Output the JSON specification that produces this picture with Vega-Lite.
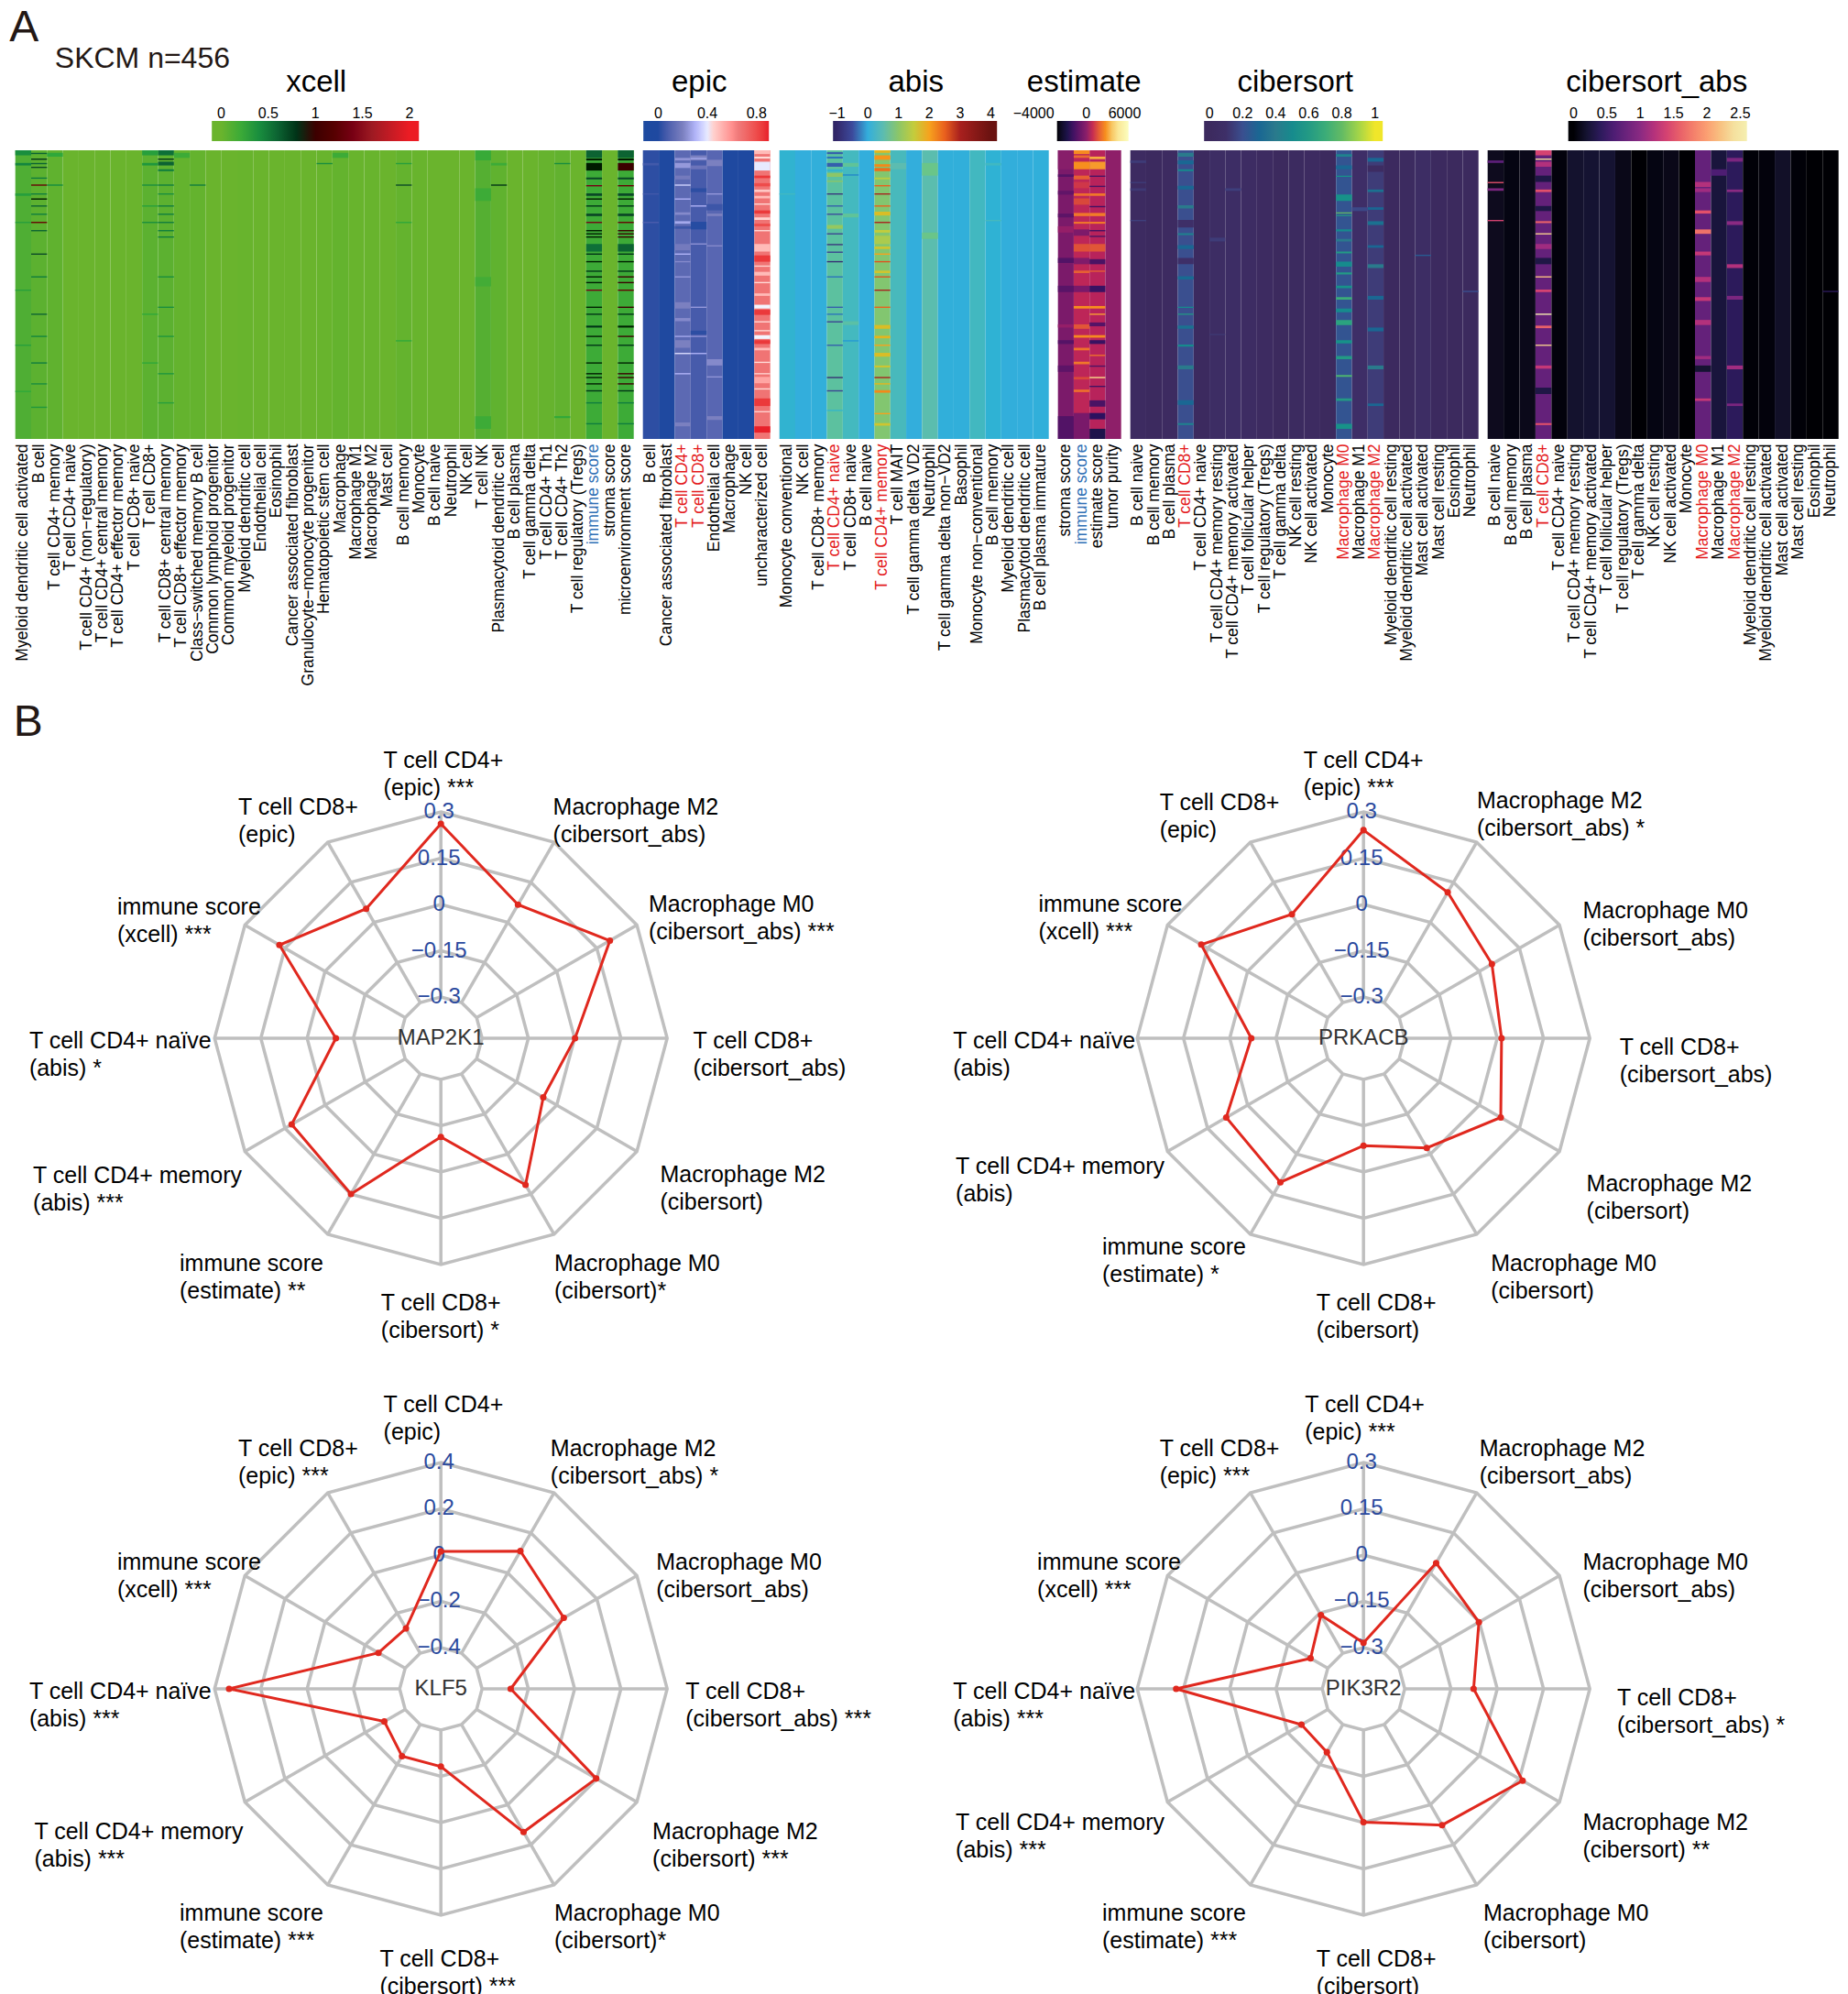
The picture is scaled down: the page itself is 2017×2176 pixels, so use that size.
{"$schema":"https://vega.github.io/schema/vega-lite/v6.json","padding":{"left":9.7,"top":7,"right":0,"bottom":0},"background":"white",
"title":{"text":"A","anchor":"start","fontSize":48,"fontWeight":"normal","font":"Liberation Sans","color":"#231815","offset":-7,"dx":-4.5},
"config":{"view":{"stroke":null},"text":{"font":"Liberation Sans"},"title":{"font":"Liberation Sans","fontWeight":"normal"},
"axis":{"labelFont":"Liberation Sans","labelFontSize":17.5,"domain":false,"ticks":false,"title":null,"labelAngle":-90,"labelPadding":5,"labelOverlap":false,"labelLimit":400,"labelBound":false,"labelFlush":false},
"legend":{"labelFont":"Liberation Sans","labelFontSize":16,"labelColor":"black","titleFont":"Liberation Sans","titleFontSize":16,"titleFontWeight":"normal","titleColor":"black"}},
"datasets":{
"xcell_cols":[{"k":0,"c":"Myeloid dendritic cell activated"},{"k":1,"c":"B cell"},{"k":2,"c":"T cell CD4+ memory"},{"k":3,"c":"T cell CD4+ naive"},{"k":4,"c":"T cell CD4+ (non−regulatory)"},{"k":5,"c":"T cell CD4+ central memory"},{"k":6,"c":"T cell CD4+ effector memory"},{"k":7,"c":"T cell CD8+ naive"},{"k":8,"c":"T cell CD8+"},{"k":9,"c":"T cell CD8+ central memory"},{"k":10,"c":"T cell CD8+ effector memory"},{"k":11,"c":"Class−switched memory B cell"},{"k":12,"c":"Common lymphoid progenitor"},{"k":13,"c":"Common myeloid progenitor"},{"k":14,"c":"Myeloid dendritic cell"},{"k":15,"c":"Endothelial cell"},{"k":16,"c":"Eosinophil"},{"k":17,"c":"Cancer associated fibroblast"},{"k":18,"c":"Granulocyte−monocyte progenitor"},{"k":19,"c":"Hematopoietic stem cell"},{"k":20,"c":"Macrophage"},{"k":21,"c":"Macrophage M1"},{"k":22,"c":"Macrophage M2"},{"k":23,"c":"Mast cell"},{"k":24,"c":"B cell memory"},{"k":25,"c":"Monocyte"},{"k":26,"c":"B cell naive"},{"k":27,"c":"Neutrophil"},{"k":28,"c":"NK cell"},{"k":29,"c":"T cell NK"},{"k":30,"c":"Plasmacytoid dendritic cell"},{"k":31,"c":"B cell plasma"},{"k":32,"c":"T cell gamma delta"},{"k":33,"c":"T cell CD4+ Th1"},{"k":34,"c":"T cell CD4+ Th2"},{"k":35,"c":"T cell regulatory (Tregs)"},{"k":36,"c":"immune score"},{"k":37,"c":"stroma score"},{"k":38,"c":"microenvironment score"}],
"xcell":[{"k":0,"v":0.13,"r":0,"e":456},{"k":1,"v":0.07,"r":0,"e":456},{"k":2,"v":0.05,"r":0,"e":456},{"k":3,"v":0,"r":0,"e":456},{"k":4,"v":0,"r":0,"e":456},{"k":5,"v":0,"r":0,"e":456},{"k":6,"v":0,"r":0,"e":456},{"k":7,"v":0,"r":0,"e":456},{"k":8,"v":0.07,"r":0,"e":456},{"k":9,"v":0.07,"r":0,"e":456},{"k":10,"v":0.03,"r":0,"e":456},{"k":11,"v":0.03,"r":0,"e":456},{"k":12,"v":0,"r":0,"e":456},{"k":13,"v":0,"r":0,"e":456},{"k":14,"v":0.01,"r":0,"e":456},{"k":15,"v":0,"r":0,"e":456},{"k":16,"v":0,"r":0,"e":456},{"k":17,"v":0,"r":0,"e":456},{"k":18,"v":0,"r":0,"e":456},{"k":19,"v":0.01,"r":0,"e":456},{"k":20,"v":0.03,"r":0,"e":456},{"k":21,"v":0.01,"r":0,"e":456},{"k":22,"v":0.01,"r":0,"e":456},{"k":23,"v":0,"r":0,"e":456},{"k":24,"v":0.03,"r":0,"e":456},{"k":25,"v":0.01,"r":0,"e":456},{"k":26,"v":0,"r":0,"e":456},{"k":27,"v":0,"r":0,"e":456},{"k":28,"v":0,"r":0,"e":456},{"k":29,"v":0.1,"r":0,"e":456},{"k":30,"v":0.05,"r":0,"e":456},{"k":31,"v":0,"r":0,"e":456},{"k":32,"v":0,"r":0,"e":456},{"k":33,"v":0.02,"r":0,"e":456},{"k":34,"v":0.04,"r":0,"e":456},{"k":35,"v":0,"r":0,"e":456},{"k":36,"v":0.2,"r":0,"e":456},{"k":37,"v":0,"r":0,"e":456},{"k":38,"v":0.2,"r":0,"e":456},
{"k":36,"v":0.6,"r":0,"e":12},{"k":36,"v":0.9,"r":13,"e":16},{"k":36,"v":0.95,"r":20,"e":32},{"k":36,"v":0.7,"r":43,"e":46},{"k":36,"v":1.4,"r":55,"e":57},{"k":36,"v":0.7,"r":68,"e":72},{"k":36,"v":0.95,"r":76,"e":78},{"k":36,"v":0.8,"r":87,"e":89},{"k":36,"v":0.7,"r":100,"e":104},{"k":36,"v":1.4,"r":113,"e":115},{"k":36,"v":0.95,"r":126,"e":128},{"k":36,"v":0.95,"r":131,"e":133},{"k":36,"v":0.95,"r":136,"e":138},{"k":36,"v":0.55,"r":148,"e":160},{"k":36,"v":0.8,"r":163,"e":165},{"k":36,"v":0.9,"r":175,"e":177},{"k":36,"v":0.8,"r":190,"e":192},{"k":36,"v":0.95,"r":199,"e":201},{"k":36,"v":0.95,"r":208,"e":210},{"k":36,"v":1.4,"r":220,"e":222},{"k":36,"v":0.9,"r":247,"e":249},{"k":36,"v":0.8,"r":258,"e":260},{"k":36,"v":0.8,"r":277,"e":280},{"k":36,"v":0.95,"r":293,"e":295},{"k":36,"v":0.8,"r":307,"e":309},{"k":36,"v":0.9,"r":335,"e":337},{"k":36,"v":0.95,"r":352,"e":354},{"k":36,"v":0.95,"r":358,"e":360},{"k":36,"v":0.95,"r":368,"e":370},{"k":36,"v":0.8,"r":379,"e":381},{"k":36,"v":0.5,"r":398,"e":400},{"k":36,"v":0.5,"r":431,"e":433},
{"k":38,"v":0.6,"r":0,"e":12},{"k":38,"v":0.95,"r":13,"e":16},{"k":38,"v":1,"r":20,"e":32},{"k":38,"v":0.7,"r":43,"e":46},{"k":38,"v":1.3,"r":55,"e":57},{"k":38,"v":0.7,"r":68,"e":72},{"k":38,"v":0.95,"r":76,"e":78},{"k":38,"v":0.8,"r":87,"e":89},{"k":38,"v":0.7,"r":100,"e":104},{"k":38,"v":1.3,"r":113,"e":115},{"k":38,"v":1,"r":126,"e":128},{"k":38,"v":1,"r":131,"e":133},{"k":38,"v":1,"r":136,"e":138},{"k":38,"v":0.6,"r":148,"e":160},{"k":38,"v":0.8,"r":163,"e":165},{"k":38,"v":0.9,"r":175,"e":177},{"k":38,"v":0.8,"r":190,"e":192},{"k":38,"v":1,"r":199,"e":201},{"k":38,"v":1,"r":208,"e":210},{"k":38,"v":1.3,"r":220,"e":222},{"k":38,"v":1,"r":247,"e":249},{"k":38,"v":0.8,"r":258,"e":260},{"k":38,"v":0.9,"r":277,"e":280},{"k":38,"v":1,"r":293,"e":295},{"k":38,"v":0.8,"r":307,"e":309},{"k":38,"v":0.9,"r":335,"e":337},{"k":38,"v":1,"r":352,"e":354},{"k":38,"v":1,"r":358,"e":360},{"k":38,"v":1,"r":368,"e":370},{"k":38,"v":0.8,"r":379,"e":381},{"k":38,"v":0.5,"r":398,"e":400},{"k":38,"v":0.5,"r":431,"e":433},
{"k":1,"v":0.6,"r":4,"e":6},{"k":1,"v":0.8,"r":13,"e":15},{"k":1,"v":0.6,"r":20,"e":22},{"k":1,"v":0.7,"r":26,"e":28},{"k":1,"v":0.5,"r":43,"e":45},{"k":1,"v":1.3,"r":54,"e":56},{"k":1,"v":0.5,"r":68,"e":70},{"k":1,"v":0.95,"r":76,"e":78},{"k":1,"v":0.6,"r":87,"e":89},{"k":1,"v":0.5,"r":100,"e":102},{"k":1,"v":1.3,"r":113,"e":115},{"k":1,"v":0.6,"r":126,"e":128},{"k":1,"v":0.7,"r":163,"e":165},{"k":1,"v":0.5,"r":199,"e":201},{"k":1,"v":0.6,"r":258,"e":260},{"k":1,"v":0.45,"r":293,"e":295},{"k":1,"v":0.5,"r":335,"e":337},{"k":1,"v":0.4,"r":368,"e":370},{"k":1,"v":0.35,"r":405,"e":407},
{"k":9,"v":0.55,"r":0,"e":8},{"k":9,"v":0.8,"r":13,"e":15},{"k":9,"v":0.6,"r":18,"e":24},{"k":9,"v":0.5,"r":30,"e":33},{"k":9,"v":0.5,"r":54,"e":56},{"k":9,"v":0.4,"r":68,"e":70},{"k":9,"v":0.5,"r":87,"e":89},{"k":9,"v":0.5,"r":100,"e":102},{"k":9,"v":0.5,"r":113,"e":115},{"k":9,"v":0.5,"r":126,"e":128},{"k":9,"v":0.5,"r":136,"e":138},{"k":9,"v":0.4,"r":199,"e":201},{"k":9,"v":0.4,"r":247,"e":249},{"k":9,"v":0.35,"r":293,"e":295},{"k":9,"v":0.35,"r":352,"e":354},{"k":9,"v":0.3,"r":398,"e":400},
{"k":8,"v":0.3,"r":0,"e":8},{"k":8,"v":0.35,"r":20,"e":24},{"k":8,"v":0.4,"r":54,"e":56},{"k":8,"v":0.3,"r":87,"e":89},{"k":8,"v":0.4,"r":113,"e":115},{"k":8,"v":0.25,"r":258,"e":260},{"k":8,"v":0.25,"r":335,"e":337},{"k":0,"v":0.4,"r":0,"e":8},{"k":0,"v":0.45,"r":20,"e":24},{"k":0,"v":0.3,"r":68,"e":72},{"k":0,"v":0.3,"r":113,"e":115},{"k":0,"v":0.3,"r":220,"e":222},{"k":0,"v":0.3,"r":307,"e":309},{"k":0,"v":0.25,"r":380,"e":382},
{"k":24,"v":0.3,"r":20,"e":22},{"k":24,"v":0.7,"r":54,"e":56},{"k":24,"v":0.25,"r":113,"e":115},{"k":24,"v":0.25,"r":300,"e":302},{"k":30,"v":0.8,"r":54,"e":56},{"k":30,"v":0.2,"r":20,"e":24},{"k":29,"v":0.22,"r":0,"e":16},{"k":29,"v":0.2,"r":60,"e":80},{"k":29,"v":0.18,"r":200,"e":215},{"k":29,"v":0.2,"r":420,"e":440},{"k":34,"v":0.4,"r":20,"e":22},{"k":34,"v":0.25,"r":420,"e":423},{"k":19,"v":0.4,"r":20,"e":22},{"k":20,"v":0.2,"r":4,"e":12},{"k":11,"v":0.5,"r":54,"e":56},{"k":10,"v":0.2,"r":4,"e":12},{"k":2,"v":0.4,"r":54,"e":56},{"k":2,"v":0.25,"r":4,"e":10}],
"epic_cols":[{"k":0,"c":"B cell"},{"k":1,"c":"Cancer associated fibroblast"},{"k":2,"c":"T cell CD4+"},{"k":3,"c":"T cell CD8+"},{"k":4,"c":"Endothelial cell"},{"k":5,"c":"Macrophage"},{"k":6,"c":"NK cell"},{"k":7,"c":"uncharacterized cell"}],
"epic":[{"k":0,"v":0.02,"r":0,"e":456},{"k":1,"v":0,"r":0,"e":456},{"k":2,"v":0.12,"r":0,"e":456},{"k":3,"v":0.07,"r":0,"e":456},{"k":4,"v":0.11,"r":0,"e":456},{"k":5,"v":0,"r":0,"e":456},{"k":6,"v":0,"r":0,"e":456},{"k":7,"v":0.67,"r":0,"e":456},
{"k":2,"v":0.24,"r":12,"e":16},{"k":2,"v":0.25,"r":20,"e":28},{"k":2,"v":0.18,"r":40,"e":46},{"k":2,"v":0.36,"r":54,"e":56},{"k":2,"v":0.3,"r":76,"e":78},{"k":2,"v":0.22,"r":98,"e":102},{"k":2,"v":0.28,"r":112,"e":116},{"k":2,"v":0.18,"r":148,"e":158},{"k":2,"v":0.3,"r":163,"e":165},{"k":2,"v":0.22,"r":175,"e":177},{"k":2,"v":0.25,"r":199,"e":201},{"k":2,"v":0.2,"r":240,"e":250},{"k":2,"v":0.22,"r":265,"e":270},{"k":2,"v":0.28,"r":293,"e":295},{"k":2,"v":0.38,"r":320,"e":322},{"k":2,"v":0.3,"r":352,"e":354},{"k":2,"v":0.2,"r":300,"e":312},{"k":2,"v":0.2,"r":430,"e":436},{"k":2,"v":0.05,"r":120,"e":124},
{"k":3,"v":0.2,"r":8,"e":16},{"k":3,"v":0.28,"r":12,"e":14},{"k":3,"v":0.16,"r":24,"e":30},{"k":3,"v":0.3,"r":87,"e":89},{"k":3,"v":0.24,"r":147,"e":149},{"k":3,"v":0.25,"r":247,"e":249},{"k":3,"v":0.24,"r":293,"e":295},{"k":3,"v":0.3,"r":320,"e":322},{"k":3,"v":0.02,"r":60,"e":66},{"k":3,"v":0.01,"r":113,"e":125},{"k":3,"v":0.02,"r":285,"e":291},
{"k":4,"v":0.2,"r":15,"e":25},{"k":4,"v":0.25,"r":68,"e":70},{"k":4,"v":0.2,"r":100,"e":104},{"k":4,"v":0.22,"r":150,"e":152},{"k":4,"v":0.22,"r":330,"e":340},{"k":4,"v":0.24,"r":357,"e":359},{"k":4,"v":0.2,"r":420,"e":426},{"k":4,"v":0.05,"r":85,"e":95},
{"k":0,"v":0.06,"r":68,"e":70},{"k":0,"v":0.08,"r":113,"e":115},{"k":0,"v":0.06,"r":20,"e":24},
{"k":7,"v":0.5,"r":0,"e":6},{"k":7,"v":0.43,"r":10,"e":13},{"k":7,"v":0.4,"r":18,"e":32},{"k":7,"v":0.85,"r":40,"e":44},{"k":7,"v":0.8,"r":52,"e":57},{"k":7,"v":0.47,"r":62,"e":66},{"k":7,"v":0.5,"r":72,"e":76},{"k":7,"v":0.43,"r":84,"e":86},{"k":7,"v":0.85,"r":95,"e":100},{"k":7,"v":0.45,"r":106,"e":110},{"k":7,"v":0.8,"r":116,"e":120},{"k":7,"v":0.43,"r":126,"e":128},{"k":7,"v":0.5,"r":148,"e":160},{"k":7,"v":0.85,"r":166,"e":176},{"k":7,"v":0.45,"r":182,"e":184},{"k":7,"v":0.5,"r":192,"e":198},{"k":7,"v":0.43,"r":208,"e":210},{"k":7,"v":0.5,"r":226,"e":230},{"k":7,"v":0.42,"r":244,"e":250},{"k":7,"v":0.85,"r":252,"e":260},{"k":7,"v":0.43,"r":270,"e":272},{"k":7,"v":0.43,"r":284,"e":286},{"k":7,"v":0.42,"r":292,"e":298},{"k":7,"v":0.85,"r":300,"e":306},{"k":7,"v":0.5,"r":312,"e":316},{"k":7,"v":0.43,"r":334,"e":336},{"k":7,"v":0.45,"r":352,"e":354},{"k":7,"v":0.55,"r":358,"e":368},{"k":7,"v":0.43,"r":376,"e":378},{"k":7,"v":0.85,"r":392,"e":404},{"k":7,"v":0.45,"r":412,"e":414},{"k":7,"v":0.9,"r":436,"e":446}],
"abis_cols":[{"k":0,"c":"Monocyte conventional"},{"k":1,"c":"NK cell"},{"k":2,"c":"T cell CD8+ memory"},{"k":3,"c":"T cell CD4+ naive"},{"k":4,"c":"T cell CD8+ naive"},{"k":5,"c":"B cell naive"},{"k":6,"c":"T cell CD4+ memory"},{"k":7,"c":"T cell MAIT"},{"k":8,"c":"T cell gamma delta VD2"},{"k":9,"c":"Neutrophil"},{"k":10,"c":"T cell gamma delta non−VD2"},{"k":11,"c":"Basophil"},{"k":12,"c":"Monocyte non−conventional"},{"k":13,"c":"B cell memory"},{"k":14,"c":"Myeloid dendritic cell"},{"k":15,"c":"Plasmacytoid dendritic cell"},{"k":16,"c":"B cell plasma immature"}],
"abis":[{"k":0,"v":0.14,"r":0,"e":456},{"k":1,"v":0,"r":0,"e":456},{"k":2,"v":0.02,"r":0,"e":456},{"k":3,"v":0.65,"r":0,"e":456},{"k":4,"v":0.33,"r":0,"e":456},{"k":5,"v":0,"r":0,"e":456},{"k":6,"v":0.95,"r":0,"e":456},{"k":7,"v":0.36,"r":0,"e":456},{"k":8,"v":0,"r":0,"e":456},{"k":9,"v":0.52,"r":0,"e":456},{"k":10,"v":0.03,"r":0,"e":456},{"k":11,"v":0.03,"r":0,"e":456},{"k":12,"v":0.32,"r":0,"e":456},{"k":13,"v":0.1,"r":0,"e":456},{"k":14,"v":0.01,"r":0,"e":456},{"k":15,"v":0,"r":0,"e":456},{"k":16,"v":0.03,"r":0,"e":456},
{"k":3,"v":-0.4,"r":3,"e":6},{"k":3,"v":-0.3,"r":10,"e":13},{"k":3,"v":-0.4,"r":20,"e":26},{"k":3,"v":0.2,"r":30,"e":34},{"k":3,"v":1,"r":36,"e":42},{"k":3,"v":1,"r":48,"e":50},{"k":3,"v":-0.8,"r":68,"e":70},{"k":3,"v":-0.4,"r":87,"e":89},{"k":3,"v":-0.5,"r":100,"e":102},{"k":3,"v":1.1,"r":118,"e":124},{"k":3,"v":-0.6,"r":131,"e":133},{"k":3,"v":-0.8,"r":148,"e":150},{"k":3,"v":-0.6,"r":160,"e":162},{"k":3,"v":-0.9,"r":175,"e":177},{"k":3,"v":-0.3,"r":199,"e":201},{"k":3,"v":-0.4,"r":247,"e":249},{"k":3,"v":-0.3,"r":258,"e":260},{"k":3,"v":-0.6,"r":270,"e":272},{"k":3,"v":-0.4,"r":307,"e":309},{"k":3,"v":-0.9,"r":358,"e":360},{"k":3,"v":-0.6,"r":379,"e":381},{"k":3,"v":0.2,"r":410,"e":412},
{"k":6,"v":1.8,"r":0,"e":4},{"k":6,"v":2.1,"r":8,"e":15},{"k":6,"v":2.2,"r":22,"e":26},{"k":6,"v":2.4,"r":28,"e":33},{"k":6,"v":1.4,"r":43,"e":46},{"k":6,"v":2.5,"r":55,"e":57},{"k":6,"v":3,"r":68,"e":70},{"k":6,"v":2.5,"r":87,"e":89},{"k":6,"v":1.7,"r":97,"e":103},{"k":6,"v":3,"r":113,"e":115},{"k":6,"v":1.5,"r":126,"e":130},{"k":6,"v":1.3,"r":135,"e":148},{"k":6,"v":1.6,"r":152,"e":156},{"k":6,"v":2,"r":163,"e":165},{"k":6,"v":2.6,"r":175,"e":177},{"k":6,"v":1.6,"r":190,"e":194},{"k":6,"v":2.6,"r":199,"e":201},{"k":6,"v":3,"r":220,"e":222},{"k":6,"v":2.5,"r":247,"e":249},{"k":6,"v":1.7,"r":276,"e":282},{"k":6,"v":1.8,"r":293,"e":297},{"k":6,"v":2,"r":307,"e":309},{"k":6,"v":1.7,"r":320,"e":326},{"k":6,"v":1.6,"r":340,"e":343},{"k":6,"v":3,"r":358,"e":360},{"k":6,"v":1.8,"r":368,"e":370},{"k":6,"v":2.2,"r":379,"e":383},{"k":6,"v":1.6,"r":431,"e":435},{"k":6,"v":2,"r":415,"e":417},
{"k":4,"v":-0.2,"r":38,"e":40},{"k":4,"v":0.7,"r":20,"e":26},{"k":4,"v":0.7,"r":100,"e":106},{"k":4,"v":-0.1,"r":300,"e":302},{"k":4,"v":0.6,"r":270,"e":276},{"k":9,"v":0.8,"r":20,"e":40},{"k":9,"v":0.8,"r":130,"e":140},{"k":7,"v":0.5,"r":20,"e":30},{"k":0,"v":0.3,"r":68,"e":70},{"k":13,"v":0.3,"r":20,"e":24},{"k":13,"v":0.35,"r":110,"e":112}],
"estimate_cols":[{"k":0,"c":"stroma score"},{"k":1,"c":"immune score"},{"k":2,"c":"estimate score"},{"k":3,"c":"tumor purity"}],
"estimate":[{"k":0,"v":-450,"r":0,"e":456},{"k":1,"v":800,"r":0,"e":456},{"k":2,"v":700,"r":0,"e":456},{"k":3,"v":50,"r":0,"e":456},
{"k":0,"v":-100,"r":0,"e":30},{"k":0,"v":-1500,"r":38,"e":42},{"k":0,"v":-1200,"r":64,"e":70},{"k":0,"v":-1300,"r":100,"e":106},{"k":0,"v":-1600,"r":170,"e":178},{"k":0,"v":-1400,"r":214,"e":224},{"k":0,"v":-1500,"r":300,"e":306},{"k":0,"v":-1300,"r":340,"e":350},{"k":0,"v":-1600,"r":420,"e":456},{"k":0,"v":150,"r":120,"e":130},{"k":0,"v":150,"r":275,"e":280},
{"k":1,"v":2900,"r":0,"e":6},{"k":1,"v":2200,"r":8,"e":12},{"k":1,"v":3000,"r":18,"e":30},{"k":1,"v":2000,"r":40,"e":46},{"k":1,"v":1200,"r":50,"e":60},{"k":1,"v":2300,"r":68,"e":72},{"k":1,"v":1500,"r":76,"e":86},{"k":1,"v":2500,"r":99,"e":104},{"k":1,"v":2500,"r":113,"e":116},{"k":1,"v":-400,"r":125,"e":135},{"k":1,"v":1700,"r":148,"e":160},{"k":1,"v":-300,"r":170,"e":180},{"k":1,"v":2000,"r":190,"e":194},{"k":1,"v":-500,"r":214,"e":224},{"k":1,"v":3000,"r":246,"e":250},{"k":1,"v":1800,"r":275,"e":282},{"k":1,"v":2900,"r":292,"e":296},{"k":1,"v":2400,"r":312,"e":316},{"k":1,"v":2500,"r":334,"e":338},{"k":1,"v":1500,"r":358,"e":362},{"k":1,"v":2300,"r":378,"e":382},{"k":1,"v":-500,"r":415,"e":456},
{"k":2,"v":3500,"r":10,"e":14},{"k":2,"v":3200,"r":18,"e":30},{"k":2,"v":-1800,"r":40,"e":42},{"k":2,"v":-1800,"r":56,"e":58},{"k":2,"v":2500,"r":68,"e":72},{"k":2,"v":-2000,"r":88,"e":90},{"k":2,"v":2600,"r":99,"e":104},{"k":2,"v":2600,"r":113,"e":116},{"k":2,"v":-2000,"r":126,"e":128},{"k":2,"v":-1800,"r":135,"e":137},{"k":2,"v":1800,"r":148,"e":160},{"k":2,"v":-1800,"r":172,"e":180},{"k":2,"v":2000,"r":190,"e":192},{"k":2,"v":-2200,"r":214,"e":224},{"k":2,"v":3000,"r":246,"e":250},{"k":2,"v":3300,"r":258,"e":260},{"k":2,"v":-1500,"r":272,"e":278},{"k":2,"v":2900,"r":292,"e":296},{"k":2,"v":-2200,"r":300,"e":306},{"k":2,"v":2400,"r":323,"e":325},{"k":2,"v":-1700,"r":340,"e":342},{"k":2,"v":4600,"r":358,"e":360},{"k":2,"v":-2000,"r":372,"e":374},{"k":2,"v":-1800,"r":395,"e":405},{"k":2,"v":-2500,"r":415,"e":425},{"k":2,"v":-3000,"r":440,"e":456}],
"cibersort_cols":[{"k":0,"c":"B cell naive"},{"k":1,"c":"B cell memory"},{"k":2,"c":"B cell plasma"},{"k":3,"c":"T cell CD8+"},{"k":4,"c":"T cell CD4+ naive"},{"k":5,"c":"T cell CD4+ memory resting"},{"k":6,"c":"T cell CD4+ memory activated"},{"k":7,"c":"T cell follicular helper"},{"k":8,"c":"T cell regulatory (Tregs)"},{"k":9,"c":"T cell gamma delta"},{"k":10,"c":"NK cell resting"},{"k":11,"c":"NK cell activated"},{"k":12,"c":"Monocyte"},{"k":13,"c":"Macrophage M0"},{"k":14,"c":"Macrophage M1"},{"k":15,"c":"Macrophage M2"},{"k":16,"c":"Myeloid dendritic cell resting"},{"k":17,"c":"Myeloid dendritic cell activated"},{"k":18,"c":"Mast cell activated"},{"k":19,"c":"Mast cell resting"},{"k":20,"c":"Eosinophil"},{"k":21,"c":"Neutrophil"}],
"cibersort":[{"k":0,"v":0.03,"r":0,"e":456},{"k":1,"v":0.01,"r":0,"e":456},{"k":2,"v":0.03,"r":0,"e":456},{"k":3,"v":0.2,"r":0,"e":456},{"k":4,"v":0.01,"r":0,"e":456},{"k":5,"v":0.06,"r":0,"e":456},{"k":6,"v":0.07,"r":0,"e":456},{"k":7,"v":0.05,"r":0,"e":456},{"k":8,"v":0.03,"r":0,"e":456},{"k":9,"v":0,"r":0,"e":456},{"k":10,"v":0.02,"r":0,"e":456},{"k":11,"v":0.03,"r":0,"e":456},{"k":12,"v":0,"r":0,"e":456},{"k":13,"v":0.22,"r":0,"e":456},{"k":14,"v":0.09,"r":0,"e":456},{"k":15,"v":0.14,"r":0,"e":456},{"k":16,"v":0.01,"r":0,"e":456},{"k":17,"v":0.02,"r":0,"e":456},{"k":18,"v":0.06,"r":0,"e":456},{"k":19,"v":0.01,"r":0,"e":456},{"k":20,"v":0,"r":0,"e":456},{"k":21,"v":0,"r":0,"e":456},
{"k":3,"v":0.4,"r":4,"e":10},{"k":3,"v":0.3,"r":16,"e":22},{"k":3,"v":0.5,"r":30,"e":33},{"k":3,"v":0.3,"r":56,"e":62},{"k":3,"v":0.4,"r":87,"e":92},{"k":3,"v":0.1,"r":110,"e":122},{"k":3,"v":0.45,"r":131,"e":134},{"k":3,"v":0.3,"r":150,"e":156},{"k":3,"v":0.1,"r":170,"e":180},{"k":3,"v":0.32,"r":199,"e":204},{"k":3,"v":0.5,"r":247,"e":249},{"k":3,"v":0.6,"r":258,"e":260},{"k":3,"v":0.35,"r":277,"e":282},{"k":3,"v":0.5,"r":307,"e":310},{"k":3,"v":0.4,"r":340,"e":346},{"k":3,"v":0.3,"r":395,"e":402},{"k":3,"v":0.45,"r":431,"e":434},
{"k":13,"v":0.45,"r":6,"e":10},{"k":13,"v":0.3,"r":24,"e":30},{"k":13,"v":0.55,"r":40,"e":42},{"k":13,"v":0.55,"r":70,"e":80},{"k":13,"v":0.8,"r":98,"e":100},{"k":13,"v":0.6,"r":102,"e":104},{"k":13,"v":0.5,"r":125,"e":128},{"k":13,"v":0.4,"r":140,"e":144},{"k":13,"v":0.6,"r":160,"e":163},{"k":13,"v":0.5,"r":176,"e":184},{"k":13,"v":0.6,"r":193,"e":196},{"k":13,"v":0.55,"r":214,"e":218},{"k":13,"v":0.7,"r":232,"e":236},{"k":13,"v":0.5,"r":250,"e":256},{"k":13,"v":0.65,"r":268,"e":276},{"k":13,"v":0.55,"r":300,"e":305},{"k":13,"v":0.6,"r":325,"e":330},{"k":13,"v":0.75,"r":355,"e":358},{"k":13,"v":0.6,"r":392,"e":396},{"k":13,"v":0.55,"r":432,"e":440},
{"k":15,"v":0.3,"r":12,"e":18},{"k":15,"v":0.04,"r":24,"e":34},{"k":15,"v":0.35,"r":62,"e":66},{"k":15,"v":0.3,"r":90,"e":94},{"k":15,"v":0.35,"r":112,"e":118},{"k":15,"v":0.3,"r":150,"e":154},{"k":15,"v":0.4,"r":180,"e":186},{"k":15,"v":0.3,"r":230,"e":236},{"k":15,"v":0.3,"r":280,"e":286},{"k":15,"v":0.4,"r":340,"e":346},{"k":15,"v":0.3,"r":400,"e":404},
{"k":18,"v":0.25,"r":165,"e":167},{"k":21,"v":0.2,"r":222,"e":224},{"k":14,"v":0.18,"r":90,"e":96},{"k":0,"v":0.14,"r":50,"e":52},{"k":0,"v":0.15,"r":110,"e":112},{"k":0,"v":0.13,"r":60,"e":64},{"k":0,"v":0.14,"r":16,"e":20},{"k":5,"v":0.14,"r":138,"e":144},{"k":5,"v":0.13,"r":290,"e":292},{"k":6,"v":0.15,"r":60,"e":64}],
"abs_cols":[{"k":0,"c":"B cell naive"},{"k":1,"c":"B cell memory"},{"k":2,"c":"B cell plasma"},{"k":3,"c":"T cell CD8+"},{"k":4,"c":"T cell CD4+ naive"},{"k":5,"c":"T cell CD4+ memory resting"},{"k":6,"c":"T cell CD4+ memory activated"},{"k":7,"c":"T cell follicular helper"},{"k":8,"c":"T cell regulatory (Tregs)"},{"k":9,"c":"T cell gamma delta"},{"k":10,"c":"NK cell resting"},{"k":11,"c":"NK cell activated"},{"k":12,"c":"Monocyte"},{"k":13,"c":"Macrophage M0"},{"k":14,"c":"Macrophage M1"},{"k":15,"c":"Macrophage M2"},{"k":16,"c":"Myeloid dendritic cell resting"},{"k":17,"c":"Myeloid dendritic cell activated"},{"k":18,"c":"Mast cell activated"},{"k":19,"c":"Mast cell resting"},{"k":20,"c":"Eosinophil"},{"k":21,"c":"Neutrophil"}],
"abs":[{"k":0,"v":0.1,"r":0,"e":456},{"k":1,"v":0.04,"r":0,"e":456},{"k":2,"v":0.08,"r":0,"e":456},{"k":3,"v":0.75,"r":0,"e":456},{"k":4,"v":0.02,"r":0,"e":456},{"k":5,"v":0.18,"r":0,"e":456},{"k":6,"v":0.2,"r":0,"e":456},{"k":7,"v":0.2,"r":0,"e":456},{"k":8,"v":0.07,"r":0,"e":456},{"k":9,"v":0,"r":0,"e":456},{"k":10,"v":0.04,"r":0,"e":456},{"k":11,"v":0.07,"r":0,"e":456},{"k":12,"v":0,"r":0,"e":456},{"k":13,"v":0.75,"r":0,"e":456},{"k":14,"v":0.25,"r":0,"e":456},{"k":15,"v":0.4,"r":0,"e":456},{"k":16,"v":0.01,"r":0,"e":456},{"k":17,"v":0.02,"r":0,"e":456},{"k":18,"v":0.15,"r":0,"e":456},{"k":19,"v":0.01,"r":0,"e":456},{"k":20,"v":0,"r":0,"e":456},{"k":21,"v":0,"r":0,"e":456},
{"k":3,"v":1.4,"r":0,"e":8},{"k":3,"v":2.4,"r":13,"e":15},{"k":3,"v":1.2,"r":18,"e":26},{"k":3,"v":0.3,"r":40,"e":50},{"k":3,"v":1.5,"r":62,"e":66},{"k":3,"v":0.3,"r":88,"e":96},{"k":3,"v":1.6,"r":112,"e":115},{"k":3,"v":2.3,"r":131,"e":133},{"k":3,"v":1.1,"r":148,"e":156},{"k":3,"v":0.3,"r":170,"e":180},{"k":3,"v":2.2,"r":199,"e":201},{"k":3,"v":1.4,"r":220,"e":224},{"k":3,"v":2.5,"r":258,"e":260},{"k":3,"v":1.6,"r":277,"e":281},{"k":3,"v":2.3,"r":307,"e":309},{"k":3,"v":1.3,"r":340,"e":345},{"k":3,"v":0.3,"r":375,"e":385},{"k":3,"v":1.5,"r":431,"e":434},
{"k":13,"v":1.2,"r":50,"e":58},{"k":13,"v":1.5,"r":95,"e":100},{"k":13,"v":1.7,"r":125,"e":132},{"k":13,"v":1.1,"r":60,"e":66},{"k":13,"v":1.3,"r":160,"e":166},{"k":13,"v":1.2,"r":200,"e":208},{"k":13,"v":1.3,"r":232,"e":238},{"k":13,"v":1.2,"r":268,"e":276},{"k":13,"v":1.1,"r":325,"e":330},{"k":13,"v":1.3,"r":392,"e":396},{"k":13,"v":0.2,"r":340,"e":350},
{"k":15,"v":0.9,"r":12,"e":18},{"k":15,"v":1,"r":62,"e":66},{"k":15,"v":1,"r":112,"e":118},{"k":15,"v":1.2,"r":180,"e":186},{"k":15,"v":0.9,"r":230,"e":236},{"k":15,"v":1.1,"r":340,"e":346},{"k":15,"v":0.9,"r":400,"e":404},{"k":0,"v":1.5,"r":50,"e":52},{"k":0,"v":1.4,"r":110,"e":112},{"k":0,"v":0.9,"r":60,"e":64},{"k":0,"v":0.7,"r":16,"e":20},{"k":14,"v":0.6,"r":30,"e":40},{"k":21,"v":0.4,"r":222,"e":224}],
"grid":[{"lvl":0,"i":0},{"lvl":0,"i":1},{"lvl":0,"i":2},{"lvl":0,"i":3},{"lvl":0,"i":4},{"lvl":0,"i":5},{"lvl":0,"i":6},{"lvl":0,"i":7},{"lvl":0,"i":8},{"lvl":0,"i":9},{"lvl":0,"i":10},{"lvl":0,"i":11},{"lvl":1,"i":0},{"lvl":1,"i":1},{"lvl":1,"i":2},{"lvl":1,"i":3},{"lvl":1,"i":4},{"lvl":1,"i":5},{"lvl":1,"i":6},{"lvl":1,"i":7},{"lvl":1,"i":8},{"lvl":1,"i":9},{"lvl":1,"i":10},{"lvl":1,"i":11},{"lvl":2,"i":0},{"lvl":2,"i":1},{"lvl":2,"i":2},{"lvl":2,"i":3},{"lvl":2,"i":4},{"lvl":2,"i":5},{"lvl":2,"i":6},{"lvl":2,"i":7},{"lvl":2,"i":8},{"lvl":2,"i":9},{"lvl":2,"i":10},{"lvl":2,"i":11},{"lvl":3,"i":0},{"lvl":3,"i":1},{"lvl":3,"i":2},{"lvl":3,"i":3},{"lvl":3,"i":4},{"lvl":3,"i":5},{"lvl":3,"i":6},{"lvl":3,"i":7},{"lvl":3,"i":8},{"lvl":3,"i":9},{"lvl":3,"i":10},{"lvl":3,"i":11},{"lvl":4,"i":0},{"lvl":4,"i":1},{"lvl":4,"i":2},{"lvl":4,"i":3},{"lvl":4,"i":4},{"lvl":4,"i":5},{"lvl":4,"i":6},{"lvl":4,"i":7},{"lvl":4,"i":8},{"lvl":4,"i":9},{"lvl":4,"i":10},{"lvl":4,"i":11}],
"MAP2K1":[{"i":0,"v":0.25,"label":"T cell CD4+\n(epic)   ***"},{"i":1,"v":0.05,"label":"Macrophage M2\n(cibersort_abs)"},{"i":2,"v":0.186,"label":"Macrophage M0\n(cibersort_abs)   ***"},{"i":3,"v":-0.017,"label":"T cell CD8+\n(cibersort_abs)"},{"i":4,"v":-0.07,"label":"Macrophage M2\n(cibersort)"},{"i":5,"v":0.1,"label":"Macrophage M0\n(cibersort)*"},{"i":6,"v":-0.135,"label":"T cell CD8+\n(cibersort)   *"},{"i":7,"v":0.135,"label":"immune score\n(estimate)   **"},{"i":8,"v":0.11,"label":"T cell CD4+ memory\n(abis)   ***"},{"i":9,"v":-0.114,"label":"T cell CD4+ naïve\n(abis)   *"},{"i":10,"v":0.157,"label":"immune score\n(xcell)   ***"},{"i":11,"v":0.034,"label":"T cell CD8+\n(epic)"}],
"PRKACB":[{"i":0,"v":0.229,"label":"T cell CD4+\n(epic)   ***"},{"i":1,"v":0.097,"label":"Macrophage M2\n(cibersort_abs)   *"},{"i":2,"v":0.03,"label":"Macrophage M0\n(cibersort_abs)"},{"i":3,"v":-0.004,"label":"T cell CD8+\n(cibersort_abs)"},{"i":4,"v":0.064,"label":"Macrophage M2\n(cibersort)"},{"i":5,"v":-0.042,"label":"Macrophage M0\n(cibersort)"},{"i":6,"v":-0.106,"label":"T cell CD8+\n(cibersort)"},{"i":7,"v":0.09,"label":"immune score\n(estimate)   *"},{"i":8,"v":0.064,"label":"T cell CD4+ memory\n(abis)"},{"i":9,"v":-0.09,"label":"T cell CD4+ naïve\n(abis)"},{"i":10,"v":0.16,"label":"immune score\n(xcell)   ***"},{"i":11,"v":0.013,"label":"T cell CD8+\n(epic)"}],
"KLF5":[{"i":0,"v":0,"label":"T cell CD4+\n(epic)"},{"i":1,"v":0.096,"label":"Macrophage M2\n(cibersort_abs)   *"},{"i":2,"v":0.02,"label":"Macrophage M0\n(cibersort_abs)"},{"i":3,"v":-0.3,"label":"T cell CD8+\n(cibersort_abs)   ***"},{"i":4,"v":0.186,"label":"Macrophage M2\n(cibersort)   ***"},{"i":5,"v":0.124,"label":"Macrophage M0\n(cibersort)*"},{"i":6,"v":-0.265,"label":"T cell CD8+\n(cibersort)   ***"},{"i":7,"v":-0.265,"label":"immune score\n(estimate)   ***"},{"i":8,"v":-0.32,"label":"T cell CD4+ memory\n(abis)   ***"},{"i":9,"v":0.33,"label":"T cell CD4+ naïve\n(abis)   ***"},{"i":10,"v":-0.29,"label":"immune score\n(xcell)   ***"},{"i":11,"v":-0.3,"label":"T cell CD8+\n(epic)   ***"}],
"PIK3R2":[{"i":0,"v":-0.31,"label":"T cell CD4+\n(epic)   ***"},{"i":1,"v":0.02,"label":"Macrophage M2\n(cibersort_abs)"},{"i":2,"v":-0.02,"label":"Macrophage M0\n(cibersort_abs)"},{"i":3,"v":-0.097,"label":"T cell CD8+\n(cibersort_abs)   *"},{"i":4,"v":0.148,"label":"Macrophage M2\n(cibersort)   **"},{"i":5,"v":0.06,"label":"Macrophage M0\n(cibersort)"},{"i":6,"v":-0.02,"label":"T cell CD8+\n(cibersort)"},{"i":7,"v":-0.22,"label":"immune score\n(estimate)   ***"},{"i":8,"v":-0.225,"label":"T cell CD4+ memory\n(abis)   ***"},{"i":9,"v":0.16,"label":"T cell CD4+ naïve\n(abis)   ***"},{"i":10,"v":-0.26,"label":"immune score\n(xcell)   ***"},{"i":11,"v":-0.18,"label":"T cell CD8+\n(epic)   ***"}]
},
"vconcat":[
{"title":{"text":"SKCM n=456","anchor":"start","fontSize":32,"color":"#231815","dx":44,"offset":-7},"resolve":{"scale":{"color":"independent"},"legend":{"color":"independent"}},"hconcat":[
{"title":{"text":"xcell","fontSize":33,"offset":25,"dx":-9},"width":675,"height":315,"data":{"name":"xcell"},"transform":[{"lookup":"k","from":{"data":{"name":"xcell_cols"},"key":"k","fields":["c"]}}],"mark":{"type":"rect"},"encoding":{"x":{"field":"c","type":"nominal","sort":null,"scale":{"paddingInner":0,"paddingOuter":0},"axis":{"labelColor":{"condition":{"test":"datum.value=='immune score'","value":"#2f6fb5"},"value":"black"}}},"y":{"field":"r","type":"quantitative","scale":{"domain":[0,456],"reverse":true,"nice":false},"axis":null},"y2":{"field":"e"},"color":{"field":"v","type":"quantitative","scale":{"domain":[-0.1,0,0.25,0.5,0.75,1,1.5,2,2.1],"range":["#6ab42d","#6ab42d","#2fa83a","#0f7d3e","#0a3d20","#000000","#8a1a20","#ec1c24","#ec1c24"]},"legend":{"orient":"none","legendX":214.5,"legendY":-32,"direction":"horizontal","gradientLength":226,"gradientThickness":22,"title":null,"values":[0,0.5,1,1.5,2],"labelOffset":-38,"labelExpr":"''+datum.value"}}}},
{"title":{"text":"epic","fontSize":33,"offset":25,"dx":-8},"width":139,"height":315,"data":{"name":"epic"},"transform":[{"lookup":"k","from":{"data":{"name":"epic_cols"},"key":"k","fields":["c"]}}],"mark":{"type":"rect"},"encoding":{"x":{"field":"c","type":"nominal","sort":null,"scale":{"paddingInner":0,"paddingOuter":0},"axis":{"labelColor":{"condition":{"test":"datum.value=='T cell CD4+'||datum.value=='T cell CD8+'","value":"#e41a1c"},"value":"black"}}},"y":{"field":"r","type":"quantitative","scale":{"domain":[0,456],"reverse":true,"nice":false},"axis":null},"y2":{"field":"e"},"color":{"field":"v","type":"quantitative","scale":{"domain":[-0.12,0,0.2,0.43,0.65,0.9],"range":["#1d4aa0","#1f49a0","#7b80c0","#ffffff","#f07a7a","#e8202a"]},"legend":{"orient":"none","legendX":0.5,"legendY":-32,"direction":"horizontal","gradientLength":137,"gradientThickness":22,"title":null,"values":[0,0.4,0.8],"labelOffset":-38,"labelExpr":"''+datum.value"}}}},
{"title":{"text":"abis","fontSize":33,"offset":25,"dx":2},"width":294,"height":315,"data":{"name":"abis"},"transform":[{"lookup":"k","from":{"data":{"name":"abis_cols"},"key":"k","fields":["c"]}}],"mark":{"type":"rect"},"encoding":{"x":{"field":"c","type":"nominal","sort":null,"scale":{"paddingInner":0,"paddingOuter":0},"axis":{"labelColor":{"condition":{"test":"datum.value=='T cell CD4+ naive'||datum.value=='T cell CD4+ memory'","value":"#e41a1c"},"value":"black"}}},"y":{"field":"r","type":"quantitative","scale":{"domain":[0,456],"reverse":true,"nice":false},"axis":null},"y2":{"field":"e"},"color":{"field":"v","type":"quantitative","scale":{"domain":[-1.13,-1,-0.5,0,0.5,1,1.5,2,2.5,3,4,4.2],"range":["#2d2463","#33286b","#3c4a9c","#33aedc","#5cbcb0","#8cc668","#c4cc3c","#f6a21e","#e9601e","#a8201e","#6a1210","#6a1210"]},"legend":{"orient":"none","legendX":58.5,"legendY":-32,"direction":"horizontal","gradientLength":179,"gradientThickness":22,"title":null,"values":[-1,0,1,2,3,4],"labelOffset":-38,"labelExpr":"datum.value<0?'−'+abs(datum.value):''+datum.value"}}}},
{"title":{"text":"estimate","fontSize":33,"offset":25,"dx":-6},"width":69,"height":315,"data":{"name":"estimate"},"transform":[{"lookup":"k","from":{"data":{"name":"estimate_cols"},"key":"k","fields":["c"]}}],"mark":{"type":"rect"},"encoding":{"x":{"field":"c","type":"nominal","sort":null,"scale":{"paddingInner":0,"paddingOuter":0},"axis":{"labelColor":{"condition":{"test":"datum.value=='immune score'","value":"#2f6fb5"},"value":"black"}}},"y":{"field":"r","type":"quantitative","scale":{"domain":[0,456],"reverse":true,"nice":false},"axis":null},"y2":{"field":"e"},"color":{"field":"v","type":"quantitative","scale":{"domain":[-4600,-2500,0,1500,3000,4500,6600],"range":["#000004","#2c115f","#8a1f6a","#d9483b","#f78f1e","#fbe08a","#fcfdbf"]},"legend":{"orient":"none","legendX":-49,"legendY":-32,"direction":"horizontal","gradientLength":78,"gradientThickness":22,"title":"−4000","titleOrient":"left","titleAnchor":"start","titleBaseline":"bottom","titlePadding":3,"values":[0,6000],"labelOffset":-38,"labelExpr":"''+datum.value"}}}},
{"title":{"text":"cibersort","fontSize":33,"offset":25,"dx":-10},"width":380,"height":315,"data":{"name":"cibersort"},"transform":[{"lookup":"k","from":{"data":{"name":"cibersort_cols"},"key":"k","fields":["c"]}}],"mark":{"type":"rect"},"encoding":{"x":{"field":"c","type":"nominal","sort":null,"scale":{"paddingInner":0,"paddingOuter":0},"axis":{"labelColor":{"condition":{"test":"datum.value=='T cell CD8+'||datum.value=='Macrophage M0'||datum.value=='Macrophage M2'","value":"#e41a1c"},"value":"black"}}},"y":{"field":"r","type":"quantitative","scale":{"domain":[0,456],"reverse":true,"nice":false},"axis":null},"y2":{"field":"e"},"color":{"field":"v","type":"quantitative","scale":{"domain":[-0.033,0,0.1,0.2,0.4,0.6,0.8,1,1.047],"range":["#3c2a5e","#3c2a5e","#3e2f68","#3a4f8f","#2a7a8c","#239a84","#63bb64","#f0e62a","#f0e62a"]},"legend":{"orient":"none","legendX":80.5,"legendY":-32,"direction":"horizontal","gradientLength":195,"gradientThickness":22,"title":null,"values":[0,0.2,0.4,0.6,0.8,1],"labelOffset":-38,"labelExpr":"''+datum.value"}}}},
{"title":{"text":"cibersort_abs","fontSize":33,"offset":25,"dx":-7},"width":383,"height":315,"data":{"name":"abs"},"transform":[{"lookup":"k","from":{"data":{"name":"abs_cols"},"key":"k","fields":["c"]}}],"mark":{"type":"rect"},"encoding":{"x":{"field":"c","type":"nominal","sort":null,"scale":{"paddingInner":0,"paddingOuter":0},"axis":{"labelColor":{"condition":{"test":"datum.value=='T cell CD8+'||datum.value=='Macrophage M0'||datum.value=='Macrophage M2'","value":"#e41a1c"},"value":"black"}}},"y":{"field":"r","type":"quantitative","scale":{"domain":[0,456],"reverse":true,"nice":false},"axis":null},"y2":{"field":"e"},"color":{"field":"v","type":"quantitative","scale":{"domain":[-0.08,0,0.5,1,1.5,2,2.5,2.6],"range":["#000004","#000004","#3c1a6e","#8a2a82","#e2506a","#fb9f72","#f5efb0","#f5efb0"]},"legend":{"orient":"none","legendX":88,"legendY":-32,"direction":"horizontal","gradientLength":195,"gradientThickness":22,"title":null,"values":[0,0.5,1,1.5,2,2.5],"labelOffset":-38,"labelExpr":"''+datum.value"}}}}
],"spacing":10,"bounds":"flush"},
{"concat":[
{"title":{"text":"B","anchor":"start","fontSize":48,"color":"#231815","offset":-24,"dx":-2},"width":990,"height":660,"encoding":{"x":{"field":"x","type":"quantitative","scale":{"domain":[-464.5,525.5],"nice":false,"zero":false},"axis":null},"y":{"field":"y","type":"quantitative","scale":{"domain":[-344,316],"reverse":true,"nice":false,"zero":false},"axis":null}},"layer":[
{"data":{"name":"grid"},"transform":[{"calculate":"45+50.5*datum.lvl","as":"rad"},{"calculate":"datum.rad*sin(datum.i*PI/6)","as":"x"},{"calculate":"-datum.rad*cos(datum.i*PI/6)","as":"y"}],"mark":{"type":"line","interpolate":"linear-closed","stroke":"#bfbfbf","strokeWidth":3.5},"encoding":{"detail":{"field":"lvl"},"order":{"field":"i"}}},
{"data":{"name":"grid"},"transform":[{"filter":"datum.lvl==0||datum.lvl==4"},{"calculate":"45+50.5*datum.lvl","as":"rad"},{"calculate":"datum.rad*sin(datum.i*PI/6)","as":"x"},{"calculate":"-datum.rad*cos(datum.i*PI/6)","as":"y"}],"mark":{"type":"line","stroke":"#bfbfbf","strokeWidth":3.5},"encoding":{"detail":{"field":"i"},"order":{"field":"lvl"}}},
{"data":{"values":[{"lvl":4,"t":"0.3"},{"lvl":3,"t":"0.15"},{"lvl":2,"t":"0"},{"lvl":1,"t":"−0.15"},{"lvl":0,"t":"−0.3"}]},"transform":[{"calculate":"0","as":"x"},{"calculate":"-(45+50.5*datum.lvl)","as":"y"}],"mark":{"type":"text","fontSize":24,"color":"#2b4a9e","dx":-2},"encoding":{"text":{"field":"t"}}},
{"data":{"values":[{"gene":"MAP2K1","x":0,"y":0}]},"mark":{"type":"text","fontSize":24,"color":"#333333"},"encoding":{"text":{"field":"gene"}}},
{"data":{"name":"MAP2K1"},"transform":[{"calculate":"152+328*datum.v","as":"rad"},{"calculate":"datum.rad*sin(datum.i*PI/6)","as":"x"},{"calculate":"-datum.rad*cos(datum.i*PI/6)","as":"y"}],"mark":{"type":"line","interpolate":"linear-closed","stroke":"#e0281e","strokeWidth":3},"encoding":{"order":{"field":"i"}}},
{"data":{"name":"MAP2K1"},"transform":[{"calculate":"152+328*datum.v","as":"rad"},{"calculate":"datum.rad*sin(datum.i*PI/6)","as":"x"},{"calculate":"-datum.rad*cos(datum.i*PI/6)","as":"y"}],"mark":{"type":"circle","size":50,"color":"#e0281e","opacity":1}},
{"data":{"name":"MAP2K1"},"transform":[{"calculate":"1.391*[-45,88,163,198,172,89,-47,-205,-320,-323,-254,-159][datum.i]","as":"x"},{"calculate":"1.391*[-218,-181,-105,2,107,177,208,177,108,2,-103,-181][datum.i]","as":"y"}],"mark":{"type":"text","fontSize":25,"align":"left","baseline":"middle","lineBreak":"\n","lineHeight":30},"encoding":{"text":{"field":"label"}}}
]},
{"width":990,"height":660,"encoding":{"x":{"field":"x","type":"quantitative","scale":{"domain":[-463.5,526.5],"nice":false,"zero":false},"axis":null},"y":{"field":"y","type":"quantitative","scale":{"domain":[-344,316],"reverse":true,"nice":false,"zero":false},"axis":null}},"layer":[
{"data":{"name":"grid"},"transform":[{"calculate":"45+50.5*datum.lvl","as":"rad"},{"calculate":"datum.rad*sin(datum.i*PI/6)","as":"x"},{"calculate":"-datum.rad*cos(datum.i*PI/6)","as":"y"}],"mark":{"type":"line","interpolate":"linear-closed","stroke":"#bfbfbf","strokeWidth":3.5},"encoding":{"detail":{"field":"lvl"},"order":{"field":"i"}}},
{"data":{"name":"grid"},"transform":[{"filter":"datum.lvl==0||datum.lvl==4"},{"calculate":"45+50.5*datum.lvl","as":"rad"},{"calculate":"datum.rad*sin(datum.i*PI/6)","as":"x"},{"calculate":"-datum.rad*cos(datum.i*PI/6)","as":"y"}],"mark":{"type":"line","stroke":"#bfbfbf","strokeWidth":3.5},"encoding":{"detail":{"field":"i"},"order":{"field":"lvl"}}},
{"data":{"values":[{"lvl":4,"t":"0.3"},{"lvl":3,"t":"0.15"},{"lvl":2,"t":"0"},{"lvl":1,"t":"−0.15"},{"lvl":0,"t":"−0.3"}]},"transform":[{"calculate":"0","as":"x"},{"calculate":"-(45+50.5*datum.lvl)","as":"y"}],"mark":{"type":"text","fontSize":24,"color":"#2b4a9e","dx":-2},"encoding":{"text":{"field":"t"}}},
{"data":{"values":[{"gene":"PRKACB","x":0,"y":0}]},"mark":{"type":"text","fontSize":24,"color":"#333333"},"encoding":{"text":{"field":"gene"}}},
{"data":{"name":"PRKACB"},"transform":[{"calculate":"152+328*datum.v","as":"rad"},{"calculate":"datum.rad*sin(datum.i*PI/6)","as":"x"},{"calculate":"-datum.rad*cos(datum.i*PI/6)","as":"y"}],"mark":{"type":"line","interpolate":"linear-closed","stroke":"#e0281e","strokeWidth":3},"encoding":{"order":{"field":"i"}}},
{"data":{"name":"PRKACB"},"transform":[{"calculate":"152+328*datum.v","as":"rad"},{"calculate":"datum.rad*sin(datum.i*PI/6)","as":"x"},{"calculate":"-datum.rad*cos(datum.i*PI/6)","as":"y"}],"mark":{"type":"circle","size":50,"color":"#e0281e","opacity":1}},
{"data":{"name":"PRKACB"},"transform":[{"calculate":"1.391*[-47,89,172,201,175,100,-37,-205,-320,-322,-255,-160][datum.i]","as":"x"},{"calculate":"1.391*[-218,-186,-100,7,114,177,208,164,101,2,-105,-185][datum.i]","as":"y"}],"mark":{"type":"text","fontSize":25,"align":"left","baseline":"middle","lineBreak":"\n","lineHeight":30},"encoding":{"text":{"field":"label"}}}
]},
{"width":990,"height":660,"encoding":{"x":{"field":"x","type":"quantitative","scale":{"domain":[-464.5,525.5],"nice":false,"zero":false},"axis":null},"y":{"field":"y","type":"quantitative","scale":{"domain":[-344,316],"reverse":true,"nice":false,"zero":false},"axis":null}},"layer":[
{"data":{"name":"grid"},"transform":[{"calculate":"45+50.5*datum.lvl","as":"rad"},{"calculate":"datum.rad*sin(datum.i*PI/6)","as":"x"},{"calculate":"-datum.rad*cos(datum.i*PI/6)","as":"y"}],"mark":{"type":"line","interpolate":"linear-closed","stroke":"#bfbfbf","strokeWidth":3.5},"encoding":{"detail":{"field":"lvl"},"order":{"field":"i"}}},
{"data":{"name":"grid"},"transform":[{"filter":"datum.lvl==0||datum.lvl==4"},{"calculate":"45+50.5*datum.lvl","as":"rad"},{"calculate":"datum.rad*sin(datum.i*PI/6)","as":"x"},{"calculate":"-datum.rad*cos(datum.i*PI/6)","as":"y"}],"mark":{"type":"line","stroke":"#bfbfbf","strokeWidth":3.5},"encoding":{"detail":{"field":"i"},"order":{"field":"lvl"}}},
{"data":{"values":[{"lvl":4,"t":"0.4"},{"lvl":3,"t":"0.2"},{"lvl":2,"t":"0"},{"lvl":1,"t":"−0.2"},{"lvl":0,"t":"−0.4"}]},"transform":[{"calculate":"0","as":"x"},{"calculate":"-(45+50.5*datum.lvl)","as":"y"}],"mark":{"type":"text","fontSize":24,"color":"#2b4a9e","dx":-2},"encoding":{"text":{"field":"t"}}},
{"data":{"values":[{"gene":"KLF5","x":0,"y":0}]},"mark":{"type":"text","fontSize":24,"color":"#333333"},"encoding":{"text":{"field":"gene"}}},
{"data":{"name":"KLF5"},"transform":[{"calculate":"150+246*datum.v","as":"rad"},{"calculate":"datum.rad*sin(datum.i*PI/6)","as":"x"},{"calculate":"-datum.rad*cos(datum.i*PI/6)","as":"y"}],"mark":{"type":"line","interpolate":"linear-closed","stroke":"#e0281e","strokeWidth":3},"encoding":{"order":{"field":"i"}}},
{"data":{"name":"KLF5"},"transform":[{"calculate":"150+246*datum.v","as":"rad"},{"calculate":"datum.rad*sin(datum.i*PI/6)","as":"x"},{"calculate":"-datum.rad*cos(datum.i*PI/6)","as":"y"}],"mark":{"type":"circle","size":50,"color":"#e0281e","opacity":1}},
{"data":{"name":"KLF5"},"transform":[{"calculate":"1.391*[-45,86,169,192,166,89,-48,-205,-319,-323,-254,-159][datum.i]","as":"x"},{"calculate":"1.391*[-223,-188,-99,2,112,176,212,176,112,2,-99,-188][datum.i]","as":"y"}],"mark":{"type":"text","fontSize":25,"align":"left","baseline":"middle","lineBreak":"\n","lineHeight":30},"encoding":{"text":{"field":"label"}}}
]},
{"width":990,"height":660,"encoding":{"x":{"field":"x","type":"quantitative","scale":{"domain":[-463.5,526.5],"nice":false,"zero":false},"axis":null},"y":{"field":"y","type":"quantitative","scale":{"domain":[-344,316],"reverse":true,"nice":false,"zero":false},"axis":null}},"layer":[
{"data":{"name":"grid"},"transform":[{"calculate":"45+50.5*datum.lvl","as":"rad"},{"calculate":"datum.rad*sin(datum.i*PI/6)","as":"x"},{"calculate":"-datum.rad*cos(datum.i*PI/6)","as":"y"}],"mark":{"type":"line","interpolate":"linear-closed","stroke":"#bfbfbf","strokeWidth":3.5},"encoding":{"detail":{"field":"lvl"},"order":{"field":"i"}}},
{"data":{"name":"grid"},"transform":[{"filter":"datum.lvl==0||datum.lvl==4"},{"calculate":"45+50.5*datum.lvl","as":"rad"},{"calculate":"datum.rad*sin(datum.i*PI/6)","as":"x"},{"calculate":"-datum.rad*cos(datum.i*PI/6)","as":"y"}],"mark":{"type":"line","stroke":"#bfbfbf","strokeWidth":3.5},"encoding":{"detail":{"field":"i"},"order":{"field":"lvl"}}},
{"data":{"values":[{"lvl":4,"t":"0.3"},{"lvl":3,"t":"0.15"},{"lvl":2,"t":"0"},{"lvl":1,"t":"−0.15"},{"lvl":0,"t":"−0.3"}]},"transform":[{"calculate":"0","as":"x"},{"calculate":"-(45+50.5*datum.lvl)","as":"y"}],"mark":{"type":"text","fontSize":24,"color":"#2b4a9e","dx":-2},"encoding":{"text":{"field":"t"}}},
{"data":{"values":[{"gene":"PIK3R2","x":0,"y":0}]},"mark":{"type":"text","fontSize":24,"color":"#333333"},"encoding":{"text":{"field":"gene"}}},
{"data":{"name":"PIK3R2"},"transform":[{"calculate":"152+328*datum.v","as":"rad"},{"calculate":"datum.rad*sin(datum.i*PI/6)","as":"x"},{"calculate":"-datum.rad*cos(datum.i*PI/6)","as":"y"}],"mark":{"type":"line","interpolate":"linear-closed","stroke":"#e0281e","strokeWidth":3},"encoding":{"order":{"field":"i"}}},
{"data":{"name":"PIK3R2"},"transform":[{"calculate":"152+328*datum.v","as":"rad"},{"calculate":"datum.rad*sin(datum.i*PI/6)","as":"x"},{"calculate":"-datum.rad*cos(datum.i*PI/6)","as":"y"}],"mark":{"type":"circle","size":50,"color":"#e0281e","opacity":1}},
{"data":{"name":"PIK3R2"},"transform":[{"calculate":"1.391*[-46,91,172,199,172,94,-37,-205,-320,-322,-256,-160][datum.i]","as":"x"},{"calculate":"1.391*[-223,-188,-99,7,105,176,212,176,105,2,-99,-188][datum.i]","as":"y"}],"mark":{"type":"text","fontSize":25,"align":"left","baseline":"middle","lineBreak":"\n","lineHeight":30},"encoding":{"text":{"field":"label"}}}
]}
],"columns":2,"spacing":{"row":50,"column":18},"bounds":"flush"}
],"spacing":625,"bounds":"flush"}
